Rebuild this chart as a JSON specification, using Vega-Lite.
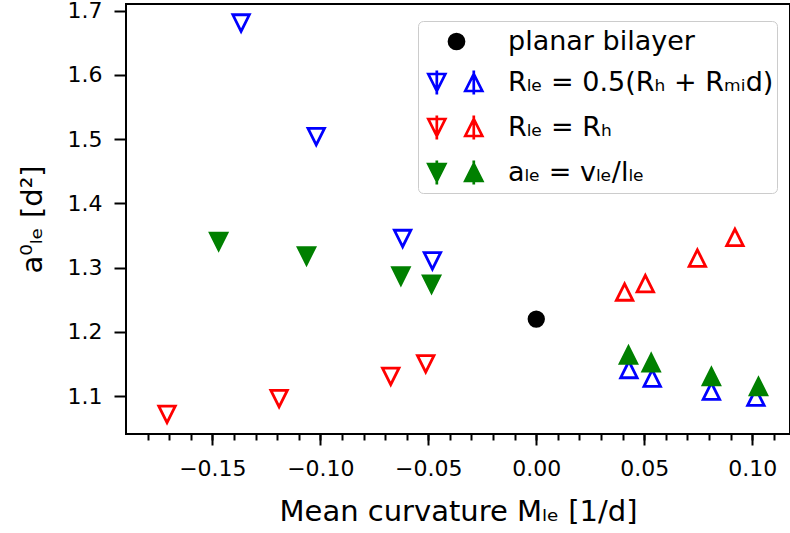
{
  "$schema": "https://vega.github.io/schema/vega-lite/v6.json",
  "width": 664,
  "height": 430,
  "autosize": {"type": "none"},
  "padding": {"left": 126, "top": 4, "right": 0, "bottom": 99},
  "config": {
    "font": "DejaVu Sans",
    "view": {"stroke": "black", "strokeWidth": 2},
    "axis": {"grid": false, "domain": false, "tickColor": "black", "tickWidth": 2, "labelColor": "black", "titleColor": "black", "titleFontWeight": "normal", "labelFont": "DejaVu Sans", "titleFont": "DejaVu Sans"},
    "legend": {"title": null, "orient": "none", "legendX": 292, "legendY": 17, "padding": 3, "fillColor": "rgba(255,255,255,0.8)", "strokeColor": "#cccccc", "cornerRadius": 5, "symbolSize": 1024, "symbolStrokeWidth": 2.7, "symbolOffset": 18, "labelFontSize": 27, "labelOffset": 34, "rowPadding": 10, "labelFont": "DejaVu Sans", "labelColor": "black", "labelLimit": 400}
  },
  "datasets": {
    "points": [
      {"series": "planar bilayer", "dir": "none", "M": 0.0, "a": 1.22},
      {"series": "Rₗₑ = 0.5(Rₕ + Rₘᵢd)", "dir": "down", "M": -0.1367, "a": 1.6808},
      {"series": "Rₗₑ = 0.5(Rₕ + Rₘᵢd)", "dir": "down", "M": -0.1019, "a": 1.5039},
      {"series": "Rₗₑ = 0.5(Rₕ + Rₘᵢd)", "dir": "down", "M": -0.0619, "a": 1.3454},
      {"series": "Rₗₑ = 0.5(Rₕ + Rₘᵢd)", "dir": "down", "M": -0.0481, "a": 1.3107},
      {"series": "Rₗₑ = 0.5(Rₕ + Rₘᵢd)", "dir": "up", "M": 0.0429, "a": 1.1415},
      {"series": "Rₗₑ = 0.5(Rₕ + Rₘᵢd)", "dir": "up", "M": 0.0537, "a": 1.128},
      {"series": "Rₗₑ = 0.5(Rₕ + Rₘᵢd)", "dir": "up", "M": 0.0811, "a": 1.1078},
      {"series": "Rₗₑ = 0.5(Rₕ + Rₘᵢd)", "dir": "up", "M": 0.1017, "a": 1.0984},
      {"series": "Rₗₑ = Rₕ", "dir": "down", "M": -0.171, "a": 1.0718},
      {"series": "Rₗₑ = Rₕ", "dir": "down", "M": -0.1191, "a": 1.0961},
      {"series": "Rₗₑ = Rₕ", "dir": "down", "M": -0.0674, "a": 1.1307},
      {"series": "Rₗₑ = Rₕ", "dir": "down", "M": -0.0512, "a": 1.1502},
      {"series": "Rₗₑ = Rₕ", "dir": "up", "M": 0.0409, "a": 1.2621},
      {"series": "Rₗₑ = Rₕ", "dir": "up", "M": 0.0505, "a": 1.2753},
      {"series": "Rₗₑ = Rₕ", "dir": "up", "M": 0.0746, "a": 1.3149},
      {"series": "Rₗₑ = Rₕ", "dir": "up", "M": 0.092, "a": 1.347},
      {"series": "aₗₑ = vₗₑ/lₗₑ", "dir": "down", "M": -0.1471, "a": 1.3408},
      {"series": "aₗₑ = vₗₑ/lₗₑ", "dir": "down", "M": -0.1064, "a": 1.3185},
      {"series": "aₗₑ = vₗₑ/lₗₑ", "dir": "down", "M": -0.0627, "a": 1.287},
      {"series": "aₗₑ = vₗₑ/lₗₑ", "dir": "down", "M": -0.0485, "a": 1.2745},
      {"series": "aₗₑ = vₗₑ/lₗₑ", "dir": "up", "M": 0.0427, "a": 1.1639},
      {"series": "aₗₑ = vₗₑ/lₗₑ", "dir": "up", "M": 0.0532, "a": 1.152},
      {"series": "aₗₑ = vₗₑ/lₗₑ", "dir": "up", "M": 0.0811, "a": 1.1304},
      {"series": "aₗₑ = vₗₑ/lₗₑ", "dir": "up", "M": 0.1029, "a": 1.1148}
    ]
  },
  "layer": [
    {
      "data": {"name": "points"},
      "transform": [{"filter": "datum.dir == 'none'"}],
      "mark": {"type": "point", "filled": true, "size": 1024, "strokeWidth": 2.3, "opacity": 1},
      "encoding": {
        "x": {"field": "M", "type": "quantitative", "scale": {"domain": [-0.19, 0.1175], "nice": false, "zero": false},
          "axis": {"orient": "bottom", "values": [-0.18, -0.17, -0.16, -0.15, -0.14, -0.13, -0.12, -0.11, -0.1, -0.09, -0.08, -0.07, -0.06, -0.05, -0.04, -0.03, -0.02, -0.01, 0, 0.01, 0.02, 0.03, 0.04, 0.05, 0.06, 0.07, 0.08, 0.09, 0.1, 0.11], "labels": false, "tickSize": 6, "title": null}},
        "y": {"field": "a", "type": "quantitative", "scale": {"domain": [1.0411, 1.7104], "nice": false, "zero": false},
          "axis": {"values": [1.1, 1.2, 1.3, 1.4, 1.5, 1.6, 1.7], "format": ".1f", "labelFontSize": 22, "tickSize": 12, "labelPadding": 12, "title": "a⁰ₗₑ [d²]", "titleFontSize": 29, "titlePadding": 20}},
        "shape": {"field": "series", "type": "nominal", "scale": {"domain": ["planar bilayer", "Rₗₑ = 0.5(Rₕ + Rₘᵢd)", "Rₗₑ = Rₕ", "aₗₑ = vₗₑ/lₗₑ"], "range": ["M-0.47,0A0.47,0.47 0 1,0 0.47,0A0.47,0.47 0 1,0 -0.47,0Z", "M-1.761,-0.531L-0.699,-0.531L-1.23,0.531Z M-1.23,-0.75L-1.23,0.75 M0.549,0.531L1.611,0.531L1.08,-0.531Z M1.08,-0.75L1.08,0.75", "M-1.761,-0.531L-0.699,-0.531L-1.23,0.531Z M-1.23,-0.75L-1.23,0.75 M0.549,0.531L1.611,0.531L1.08,-0.531Z M1.08,-0.75L1.08,0.75", "M-1.761,-0.531L-0.699,-0.531L-1.23,0.531Z M-1.23,-0.75L-1.23,0.75 M0.549,0.531L1.611,0.531L1.08,-0.531Z M1.08,-0.75L1.08,0.75"]}},
        "stroke": {"field": "series", "type": "nominal", "scale": {"domain": ["planar bilayer", "Rₗₑ = 0.5(Rₕ + Rₘᵢd)", "Rₗₑ = Rₕ", "aₗₑ = vₗₑ/lₗₑ"], "range": ["black", "blue", "red", "green"]}},
        "fill": {"field": "series", "type": "nominal", "scale": {"domain": ["planar bilayer", "Rₗₑ = 0.5(Rₕ + Rₘᵢd)", "Rₗₑ = Rₕ", "aₗₑ = vₗₑ/lₗₑ"], "range": ["black", "transparent", "transparent", "green"]}}
      }
    },
    {
      "data": {"name": "points"},
      "transform": [{"filter": "datum.dir == 'down'"}],
      "mark": {"type": "point", "filled": true, "shape": "M0,1L-1,-1L1,-1Z", "size": 272, "strokeWidth": 2.8, "opacity": 1},
      "encoding": {
        "x": {"field": "M", "type": "quantitative",
          "axis": {"orient": "bottom", "values": [-0.15, -0.1, -0.05, 0, 0.05, 0.1], "format": ".2f", "labelFontSize": 22, "tickSize": 11, "labelPadding": 13, "title": "Mean curvature Mₗₑ [1/d]", "titleFontSize": 29, "titlePadding": 18}},
        "y": {"field": "a", "type": "quantitative"},
        "stroke": {"field": "series", "type": "nominal"},
        "fill": {"field": "series", "type": "nominal"}
      }
    },
    {
      "data": {"name": "points"},
      "transform": [{"filter": "datum.dir == 'up'"}],
      "mark": {"type": "point", "filled": true, "shape": "M0,-1L-1,1L1,1Z", "size": 272, "strokeWidth": 2.8, "opacity": 1},
      "encoding": {
        "x": {"field": "M", "type": "quantitative", "axis": null},
        "y": {"field": "a", "type": "quantitative"},
        "stroke": {"field": "series", "type": "nominal"},
        "fill": {"field": "series", "type": "nominal"}
      }
    }
  ],
  "resolve": {"axis": {"x": "independent"}}
}
